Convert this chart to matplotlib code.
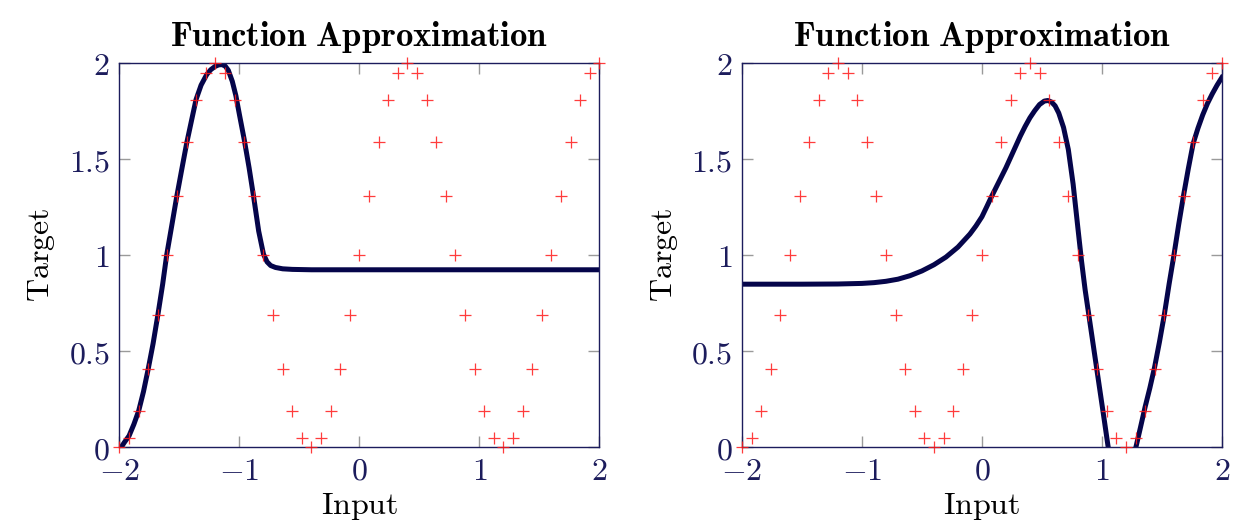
import matplotlib
matplotlib.use("Agg")
import matplotlib.pyplot as plt
from matplotlib.ticker import FuncFormatter

plt.rcParams["mathtext.fontset"] = "cm"
plt.rcParams["font.family"] = "serif"

# target samples (red crosses)
x_target = [-2.0, -1.92, -1.84, -1.76, -1.68, -1.6, -1.52, -1.44, -1.36, -1.28,
            -1.2, -1.12, -1.04, -0.96, -0.88, -0.8, -0.72, -0.64, -0.56, -0.48,
            -0.4, -0.32, -0.24, -0.16, -0.08, 0.0, 0.08, 0.16, 0.24, 0.32,
            0.4, 0.48, 0.56, 0.64, 0.72, 0.8, 0.88, 0.96, 1.04, 1.12,
            1.2, 1.28, 1.36, 1.44, 1.52, 1.6, 1.68, 1.76, 1.84, 1.92, 2.0]
y_target = [0.0, 0.05, 0.19, 0.41, 0.69, 1.0, 1.31, 1.59, 1.81, 1.95,
            2.0, 1.95, 1.81, 1.59, 1.31, 1.0, 0.69, 0.41, 0.19, 0.05,
            0.0, 0.05, 0.19, 0.41, 0.69, 1.0, 1.31, 1.59, 1.81, 1.95,
            2.0, 1.95, 1.81, 1.59, 1.31, 1.0, 0.69, 0.41, 0.19, 0.05,
            0.0, 0.05, 0.19, 0.41, 0.69, 1.0, 1.31, 1.59, 1.81, 1.95, 2.0]

# network output, left panel
x_left = [-2.0, -1.986, -1.96, -1.92, -1.88, -1.84, -1.80, -1.76, -1.72, -1.68,
          -1.64, -1.607, -1.56, -1.523, -1.48, -1.44, -1.40, -1.362, -1.32, -1.273,
          -1.24, -1.204, -1.175, -1.148, -1.12, -1.093, -1.06, -1.03, -1.00, -0.96,
          -0.92, -0.88, -0.84, -0.80, -0.77, -0.74, -0.70, -0.64, -0.56, -0.40,
          0.0, 1.0, 2.0]
y_left = [-0.03, 0.0, 0.025, 0.06, 0.12, 0.19, 0.29, 0.41, 0.54, 0.69,
          0.85, 1.0, 1.17, 1.305, 1.45, 1.583, 1.70, 1.81, 1.885, 1.94,
          1.965, 1.982, 1.99, 1.992, 1.985, 1.962, 1.905, 1.83, 1.73, 1.60,
          1.455, 1.295, 1.125, 1.005, 0.965, 0.946, 0.936, 0.929, 0.926, 0.924,
          0.924, 0.924, 0.924]

# network output, right panel
x_right = [-2.0, -1.5, -1.2, -1.0, -0.9, -0.8, -0.7, -0.6, -0.5, -0.4,
           -0.3, -0.2, -0.1, -0.05, 0.0, 0.04, 0.08, 0.12, 0.16, 0.20,
           0.24, 0.28, 0.32, 0.36, 0.40, 0.44, 0.48, 0.52, 0.55, 0.58,
           0.61, 0.64, 0.68, 0.72, 0.76, 0.80, 0.83, 0.86, 0.90, 0.94,
           0.98, 1.02, 1.05, 1.08, 1.13, 1.18, 1.23, 1.265, 1.283, 1.32,
           1.36, 1.40, 1.44, 1.48, 1.52, 1.56, 1.60, 1.64, 1.68, 1.72,
           1.76, 1.80, 1.84, 1.88, 1.92, 1.96, 2.0]
y_right = [0.849, 0.849, 0.85, 0.853, 0.857, 0.864, 0.875, 0.893, 0.918, 0.95,
           0.99, 1.042, 1.11, 1.152, 1.2, 1.252, 1.305, 1.355, 1.405, 1.455,
           1.51, 1.565, 1.62, 1.67, 1.715, 1.752, 1.784, 1.802, 1.805, 1.797,
           1.777, 1.74, 1.665, 1.55, 1.37, 1.14, 0.97, 0.82, 0.65, 0.48,
           0.31, 0.14, 0.01, -0.1, -0.22, -0.26, -0.18, -0.06, 0.0, 0.1,
           0.21, 0.31, 0.42, 0.55, 0.69, 0.85, 1.0, 1.16, 1.31, 1.45,
           1.58, 1.66, 1.73, 1.79, 1.84, 1.885, 1.925]

x_ticks = [-2, -1, 0, 1, 2]
y_ticks = [0, 0.5, 1, 1.5, 2]

navy = "#1c1c5c"
line_color = "#05054a"


def fmt(v, pos):
    return r"$%g$" % v


fig = plt.figure(figsize=(12.37, 5.31), dpi=100)
positions = [[0.0966, 0.1576, 0.388, 0.7237], [0.5998, 0.1576, 0.388, 0.7237]]
curves = [(x_left, y_left), (x_right, y_right)]

for pos, (cx, cy) in zip(positions, curves):
    ax = fig.add_axes(pos)
    ax.plot(cx, cy, color=line_color, linewidth=3.6, zorder=2,
            solid_joinstyle="round")
    ax.plot(x_target, y_target, linestyle="none", marker="+", markersize=8.5,
            markeredgewidth=0.9, color="#ff1a1a", alpha=0.85, zorder=3,
            clip_on=False)
    ax.set_xlim(-2, 2)
    ax.set_ylim(0, 2)
    ax.set_xticks(x_ticks)
    ax.set_yticks(y_ticks)
    ax.xaxis.set_major_formatter(FuncFormatter(fmt))
    ax.yaxis.set_major_formatter(FuncFormatter(fmt))
    ax.tick_params(direction="in", length=8, width=1, color="#9a9a9a",
                   labelsize=23, labelcolor=navy, top=True, right=True)
    ax.tick_params(axis="x", pad=6)
    ax.tick_params(axis="y", pad=7)
    for s in ax.spines.values():
        s.set_color(navy)
        s.set_linewidth(1.0)
    ax.set_title(r"$\mathbf{Function\ Approximation}$", fontsize=25, pad=12)
    ax.set_xlabel(r"$\mathrm{Input}$", fontsize=23, labelpad=3)
    ax.set_ylabel(r"$\mathrm{Target}$", fontsize=23, labelpad=8)

fig.savefig("out.png", dpi=100)
